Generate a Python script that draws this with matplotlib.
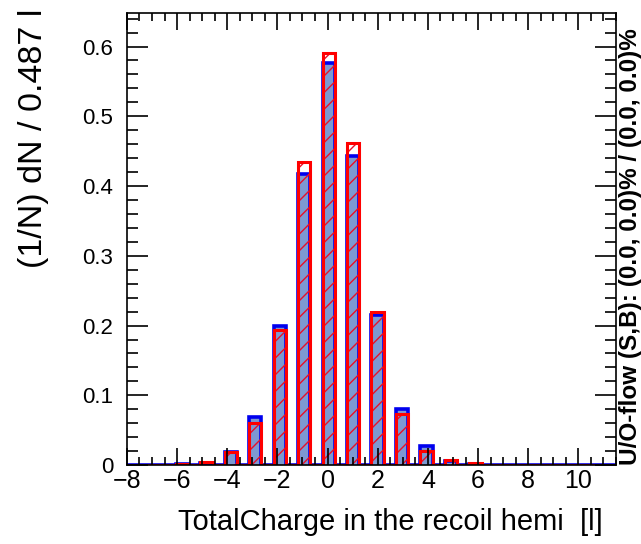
import numpy as np
import matplotlib
matplotlib.use("Agg")
import matplotlib.pyplot as plt
from matplotlib.ticker import MultipleLocator

plt.rcParams['font.family'] = ['Liberation Sans', 'DejaVu Sans']
plt.rcParams['hatch.linewidth'] = 1.0

# histogram: 40 bins from -8 to 11.5 (bin width 0.487)
x_min, x_max, n_bins = -8.0, 11.5, 40
charges = [-7, -6, -5, -4, -3, -2, -1, 0, 1, 2, 3, 4, 5, 6, 7]
signal = [0.0005, 0.001, 0.003, 0.019, 0.069, 0.199, 0.417, 0.577, 0.443, 0.215, 0.080, 0.028, 0.006, 0.002, 0.0005]
background = [0.0005, 0.001, 0.004, 0.019, 0.061, 0.193, 0.434, 0.591, 0.462, 0.219, 0.073, 0.020, 0.007, 0.003, 0.0005]

edges = np.linspace(x_min, x_max, n_bins + 1)
sig_h = np.zeros(n_bins)
bkg_h = np.zeros(n_bins)
for c, s, b in zip(charges, signal, background):
    k = np.searchsorted(edges, c, side='right') - 1
    sig_h[k] += s
    bkg_h[k] += b

fig = plt.figure(figsize=(6.41, 5.44), dpi=100)
ax = fig.add_axes([0.198, 0.145, 0.763, 0.831])

# signal: filled blue, background: red hatched outline
ax.stairs(sig_h, edges, fill=True, facecolor='#7d99d1', edgecolor='none')
ax.stairs(sig_h, edges, color='#0000ee', linewidth=2.6)
ax.stairs(bkg_h, edges, fill=True, facecolor='none', edgecolor='#e8102a',
          hatch='//', linewidth=0)
ax.stairs(bkg_h, edges, color='#ff0000', linewidth=2.2)

ax.set_xlim(x_min, x_max)
ax.set_ylim(0, 0.648)

ax.xaxis.set_major_locator(MultipleLocator(2))
ax.xaxis.set_minor_locator(MultipleLocator(0.5))
ax.yaxis.set_major_locator(MultipleLocator(0.1))
ax.yaxis.set_minor_locator(MultipleLocator(0.02))
ax.tick_params(which='both', direction='in', top=True, right=True, width=1.2)
ax.tick_params(axis='x', which='major', labelsize=18, length=12, pad=3)
ax.tick_params(axis='x', which='minor', length=6)
ax.tick_params(axis='y', which='major', labelsize=16, length=15, pad=10)
ax.tick_params(axis='y', which='minor', length=8)
ax.yaxis.set_major_formatter(plt.FuncFormatter(lambda v, p: '0' if abs(v) < 1e-9 else f'{v:g}'))
for s in ax.spines.values():
    s.set_linewidth(1.2)

fig.text(603 / 641, 1 - 522 / 544, 'TotalCharge in the recoil hemi  [l]',
         ha='right', va='center', fontsize=21)
fig.text(34 / 641, 1 - 268 / 544, '(1/N) dN / 0.487 l', rotation=90,
         ha='center', va='bottom', fontsize=24.5)
fig.text(630 / 641, 1 - 465 / 544, 'U/O-flow (S,B): (0.0, 0.0)% / (0.0, 0.0)%',
         rotation=90, ha='center', va='bottom', fontsize=17.5, fontweight='bold')

fig.savefig('out.png', dpi=100)
